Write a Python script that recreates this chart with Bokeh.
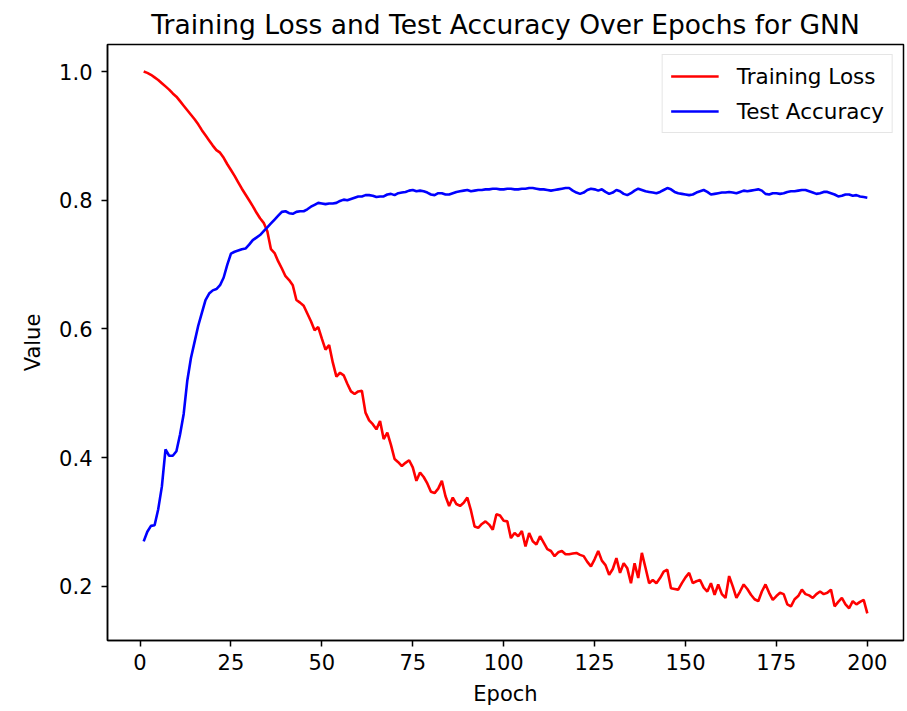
from bokeh.plotting import figure
from bokeh.models import Range1d, FixedTicker, Legend, LegendItem
from bokeh.embed import file_html
from bokeh.resources import INLINE

epochs = list(range(1, 201))

training_loss = [
    1.000, 0.998, 0.995, 0.991, 0.987, 0.982, 0.977, 0.972, 0.966, 0.961,
    0.954, 0.947, 0.940, 0.933, 0.926, 0.918, 0.909, 0.901, 0.893, 0.885,
    0.878, 0.874, 0.866, 0.856, 0.847, 0.838, 0.828, 0.818, 0.809, 0.800,
    0.791, 0.781, 0.772, 0.765, 0.752, 0.724, 0.718, 0.705, 0.694, 0.682,
    0.676, 0.668, 0.645, 0.641, 0.636, 0.624, 0.612, 0.598, 0.603, 0.585,
    0.568, 0.575, 0.548, 0.526, 0.532, 0.528, 0.515, 0.503, 0.499, 0.503,
    0.504, 0.470, 0.458, 0.452, 0.444, 0.457, 0.429, 0.439, 0.420, 0.398,
    0.393, 0.387, 0.392, 0.396, 0.385, 0.364, 0.377, 0.370, 0.360, 0.347,
    0.345, 0.352, 0.364, 0.340, 0.325, 0.338, 0.328, 0.325, 0.330, 0.338,
    0.318, 0.293, 0.291, 0.297, 0.301, 0.296, 0.288, 0.312, 0.310, 0.302,
    0.301, 0.275, 0.283, 0.278, 0.286, 0.262, 0.283, 0.270, 0.265, 0.278,
    0.268, 0.258, 0.255, 0.247, 0.253, 0.255, 0.250, 0.250, 0.251, 0.252,
    0.249, 0.247, 0.238, 0.231, 0.242, 0.255, 0.240, 0.233, 0.218, 0.227,
    0.244, 0.221, 0.236, 0.228, 0.205, 0.236, 0.213, 0.252, 0.229, 0.205,
    0.210, 0.205, 0.213, 0.223, 0.226, 0.197, 0.196, 0.195, 0.205, 0.214,
    0.221, 0.205, 0.208, 0.210, 0.198, 0.192, 0.205, 0.187, 0.203, 0.188,
    0.182, 0.216, 0.200, 0.182, 0.192, 0.203, 0.196, 0.187, 0.180, 0.177,
    0.192, 0.203, 0.190, 0.179, 0.185, 0.190, 0.188, 0.172, 0.169, 0.180,
    0.185, 0.195, 0.188, 0.186, 0.182, 0.188, 0.192, 0.188, 0.190, 0.195,
    0.169, 0.176, 0.182, 0.172, 0.166, 0.177, 0.172, 0.176, 0.179, 0.158,
]

test_accuracy = [
    0.270, 0.285, 0.294, 0.295, 0.320, 0.355, 0.413, 0.403, 0.403, 0.410,
    0.436, 0.468, 0.520, 0.555, 0.580, 0.605, 0.625, 0.645, 0.655, 0.660,
    0.662, 0.668, 0.680, 0.700, 0.717, 0.720, 0.722, 0.724, 0.725, 0.731,
    0.738, 0.742, 0.746, 0.752, 0.758, 0.764, 0.770, 0.776, 0.782, 0.783,
    0.780, 0.779, 0.782, 0.783, 0.783, 0.786, 0.790, 0.793, 0.796, 0.795,
    0.794, 0.795, 0.795, 0.796, 0.799, 0.801, 0.800, 0.802, 0.804, 0.806,
    0.806, 0.808, 0.808, 0.807, 0.805, 0.806, 0.806, 0.809, 0.810, 0.808,
    0.811, 0.812, 0.813, 0.815, 0.816, 0.814, 0.815, 0.814, 0.812, 0.809,
    0.808, 0.811, 0.811, 0.809, 0.809, 0.811, 0.813, 0.814, 0.815, 0.816,
    0.814, 0.815, 0.816, 0.816, 0.817, 0.817, 0.818, 0.818, 0.817, 0.817,
    0.818, 0.818, 0.817, 0.817, 0.818, 0.818, 0.819, 0.819, 0.818, 0.817,
    0.817, 0.816, 0.815, 0.816, 0.817, 0.818, 0.819, 0.819, 0.815, 0.812,
    0.810, 0.812, 0.816, 0.818, 0.817, 0.815, 0.817, 0.813, 0.810, 0.812,
    0.816, 0.814, 0.810, 0.808, 0.811, 0.815, 0.818, 0.816, 0.814, 0.813,
    0.812, 0.811, 0.813, 0.816, 0.819, 0.817, 0.813, 0.811, 0.810, 0.809,
    0.808, 0.809, 0.812, 0.814, 0.816, 0.813, 0.809, 0.810, 0.811, 0.812,
    0.812, 0.813, 0.812, 0.811, 0.813, 0.815, 0.814, 0.815, 0.816, 0.817,
    0.815, 0.810, 0.809, 0.811, 0.811, 0.810, 0.811, 0.813, 0.814, 0.814,
    0.815, 0.816, 0.816, 0.814, 0.812, 0.810, 0.811, 0.813, 0.813, 0.811,
    0.809, 0.806, 0.807, 0.809, 0.809, 0.807, 0.808, 0.806, 0.805, 0.804,
]

x_ticks = [0, 25, 50, 75, 100, 125, 150, 175, 200]
y_ticks = [0.2, 0.4, 0.6, 0.8, 1.0]
y_tick_labels = ["0.2", "0.4", "0.6", "0.8", "1.0"]

series_names = ["Training Loss", "Test Accuracy"]
series_colors = ["red", "blue"]
title_text = "Training Loss and Test Accuracy Over Epochs for GNN"

FONT = "DejaVu Sans"

# matplotlib-like 5% margins
xmin, xmax = min(epochs), max(epochs)
ymin = min(min(training_loss), min(test_accuracy))
ymax = max(max(training_loss), max(test_accuracy))
xm = (xmax - xmin) * 0.05
ym = (ymax - ymin) * 0.05

p = figure(
    frame_width=796, frame_height=596,
    min_border_left=107, min_border_right=4,
    min_border_top=44, min_border_bottom=71,
    x_range=Range1d(xmin - xm, xmax + xm),
    y_range=Range1d(ymin - ym, ymax + ym),
    output_backend="svg", toolbar_location=None,
    title=title_text,
)

p.title.text_font = FONT
p.title.text_font_size = "26.5px"
p.title.text_font_style = "normal"
p.title.text_color = "black"
p.title.align = "center"
p.title.standoff = 9

p.xgrid.visible = False
p.ygrid.visible = False
p.outline_line_color = "black"
p.outline_line_width = 1.5
p.background_fill_color = "white"
p.border_fill_color = "white"

for ax in (p.xaxis[0], p.yaxis[0]):
    ax.axis_line_color = "black"
    ax.axis_line_width = 1.5
    ax.major_tick_line_color = "black"
    ax.major_tick_line_width = 1.5
    ax.major_tick_out = 6
    ax.major_tick_in = 0
    ax.minor_tick_line_color = None
    ax.major_label_text_font = FONT
    ax.major_label_text_font_size = "21px"
    ax.major_label_text_color = "black"
    ax.axis_label_text_font = FONT
    ax.axis_label_text_font_size = "21px"
    ax.axis_label_text_font_style = "normal"
    ax.axis_label_text_color = "black"

p.xaxis.axis_label = "Epoch"
p.yaxis.axis_label = "Value"
p.xaxis.ticker = FixedTicker(ticks=x_ticks)
p.yaxis.ticker = FixedTicker(ticks=y_ticks)
p.yaxis.major_label_overrides = {t: l for t, l in zip(y_ticks, y_tick_labels)}
p.xaxis.major_label_standoff = 7
p.yaxis.major_label_standoff = 9
p.xaxis.axis_label_standoff = 9
p.yaxis.axis_label_standoff = 11

r1 = p.line(epochs, training_loss, line_color=series_colors[0], line_width=2.6)
r2 = p.line(epochs, test_accuracy, line_color=series_colors[1], line_width=2.6)

legend = Legend(
    items=[LegendItem(label=series_names[0], renderers=[r1]),
           LegendItem(label=series_names[1], renderers=[r2])],
    location="top_right",
)
legend.label_text_font = FONT
legend.label_text_font_size = "21.5px"
legend.label_text_color = "black"
legend.glyph_width = 48
legend.glyph_height = 26
legend.label_standoff = 18
legend.label_height = 26
legend.spacing = 9
legend.padding = 8
legend.margin = 10
legend.border_line_color = "#cccccc"
legend.border_line_width = 1.2
legend.background_fill_color = "white"
legend.background_fill_alpha = 0.8
p.add_layout(legend)

open("out.html", "w").write(file_html(p, INLINE))
